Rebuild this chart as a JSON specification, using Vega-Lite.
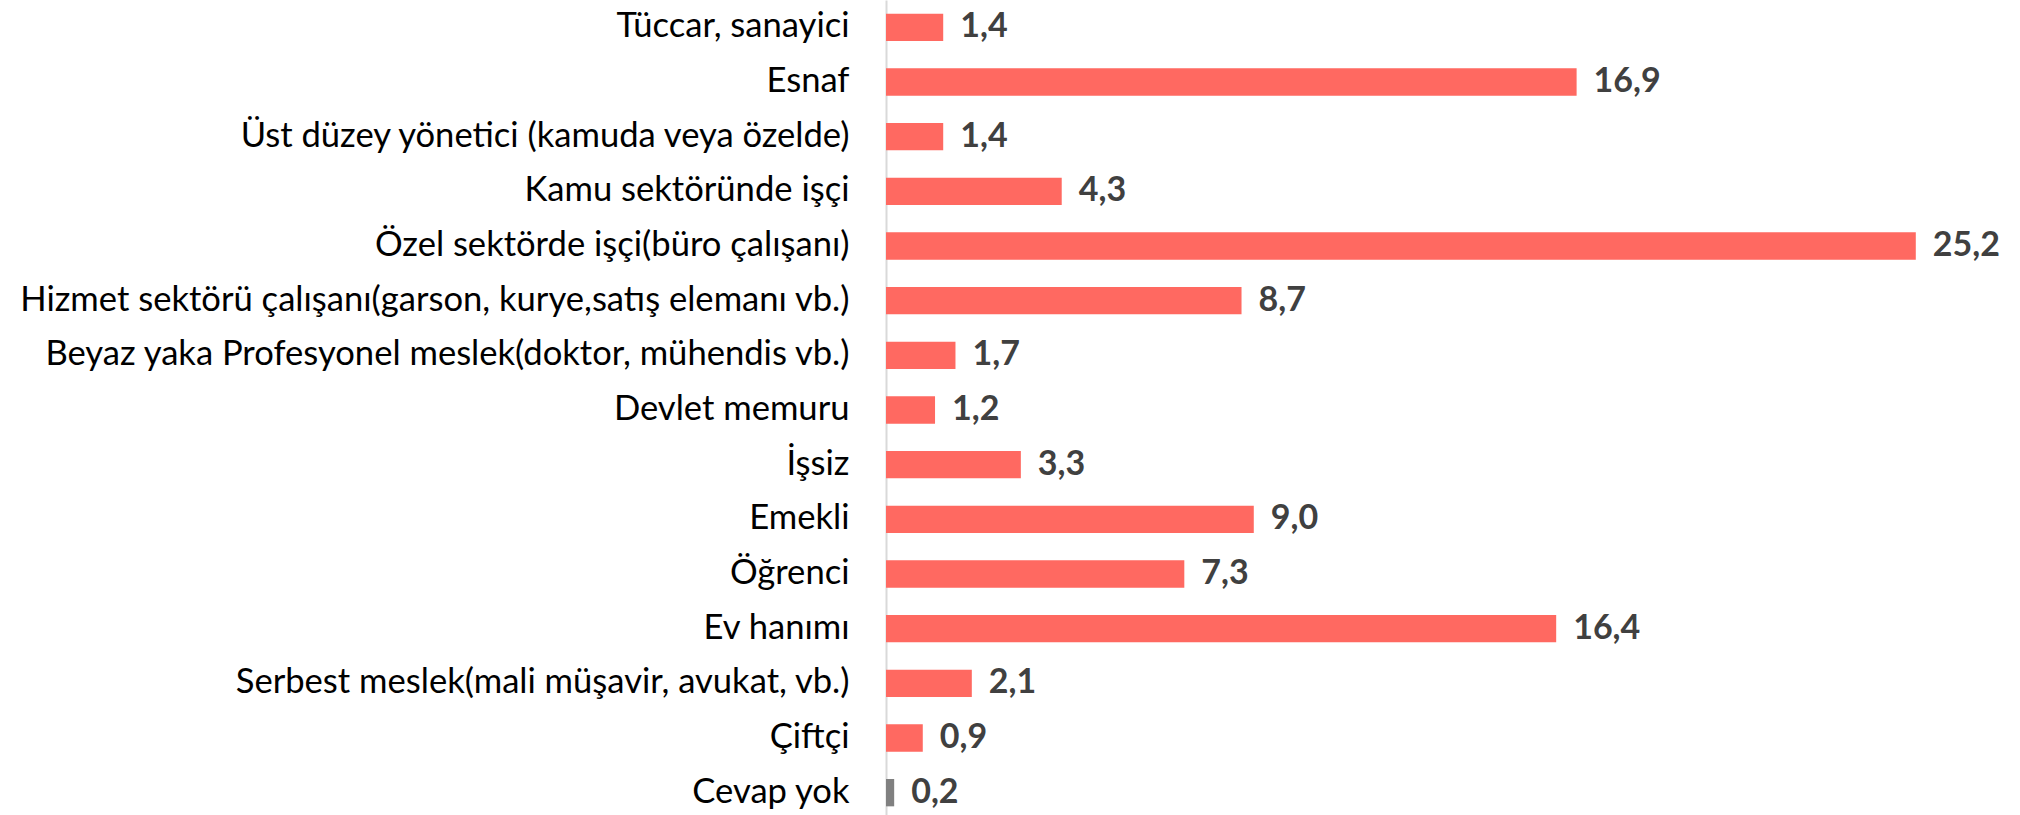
{
  "$schema": "https://vega.github.io/schema/vega-lite/v6.json",
  "width": 1134,
  "height": 820,
  "autosize": {"type": "none"},
  "padding": {"left": 886, "top": 0, "right": 0, "bottom": 0},
  "config": {
    "view": {"stroke": null},
    "locale": {"number": {"decimal": ",", "thousands": ".", "grouping": [3], "currency": ["", " TL"]}}
  },
  "data": {
    "values": [
      {"cat": "Tüccar, sanayici", "v": 1.4},
      {"cat": "Esnaf", "v": 16.9},
      {"cat": "Üst düzey yönetici (kamuda veya özelde)", "v": 1.4},
      {"cat": "Kamu sektöründe işçi", "v": 4.3},
      {"cat": "Özel sektörde işçi(büro çalışanı)", "v": 25.2},
      {"cat": "Hizmet sektörü çalışanı(garson, kurye,satış elemanı vb.)", "v": 8.7},
      {"cat": "Beyaz yaka Profesyonel meslek(doktor, mühendis vb.)", "v": 1.7},
      {"cat": "Devlet memuru", "v": 1.2},
      {"cat": "İşsiz", "v": 3.3},
      {"cat": "Emekli", "v": 9.0},
      {"cat": "Öğrenci", "v": 7.3},
      {"cat": "Ev hanımı", "v": 16.4},
      {"cat": "Serbest meslek(mali müşavir, avukat, vb.)", "v": 2.1},
      {"cat": "Çiftçi", "v": 0.9},
      {"cat": "Cevap yok", "v": 0.2}
    ]
  },
  "encoding": {
    "y": {
      "field": "cat",
      "type": "nominal",
      "sort": null,
      "scale": {"paddingInner": 0.5, "paddingOuter": 0.25},
      "axis": {
        "title": null,
        "ticks": false,
        "domainColor": "#d9d9d9",
        "domainWidth": 2,
        "labelFont": "Lato",
        "labelFontSize": 34.6,
        "labelColor": "#000000",
        "labelPadding": 37,
        "labelLimit": 0
      }
    },
    "x": {
      "field": "v",
      "type": "quantitative",
      "scale": {"domain": [0, 27.75], "nice": false},
      "axis": null
    }
  },
  "layer": [
    {
      "mark": {"type": "bar"},
      "encoding": {
        "color": {
          "condition": {"test": "datum.cat === 'Cevap yok'", "value": "#808080"},
          "value": "#ff6961"
        }
      }
    },
    {
      "mark": {"type": "text", "align": "left", "baseline": "middle", "dx": 17, "font": "Lato", "fontSize": 34, "fontWeight": "bold", "color": "#404040"},
      "encoding": {
        "text": {"field": "v", "type": "quantitative", "format": ".1f"}
      }
    }
  ]
}
